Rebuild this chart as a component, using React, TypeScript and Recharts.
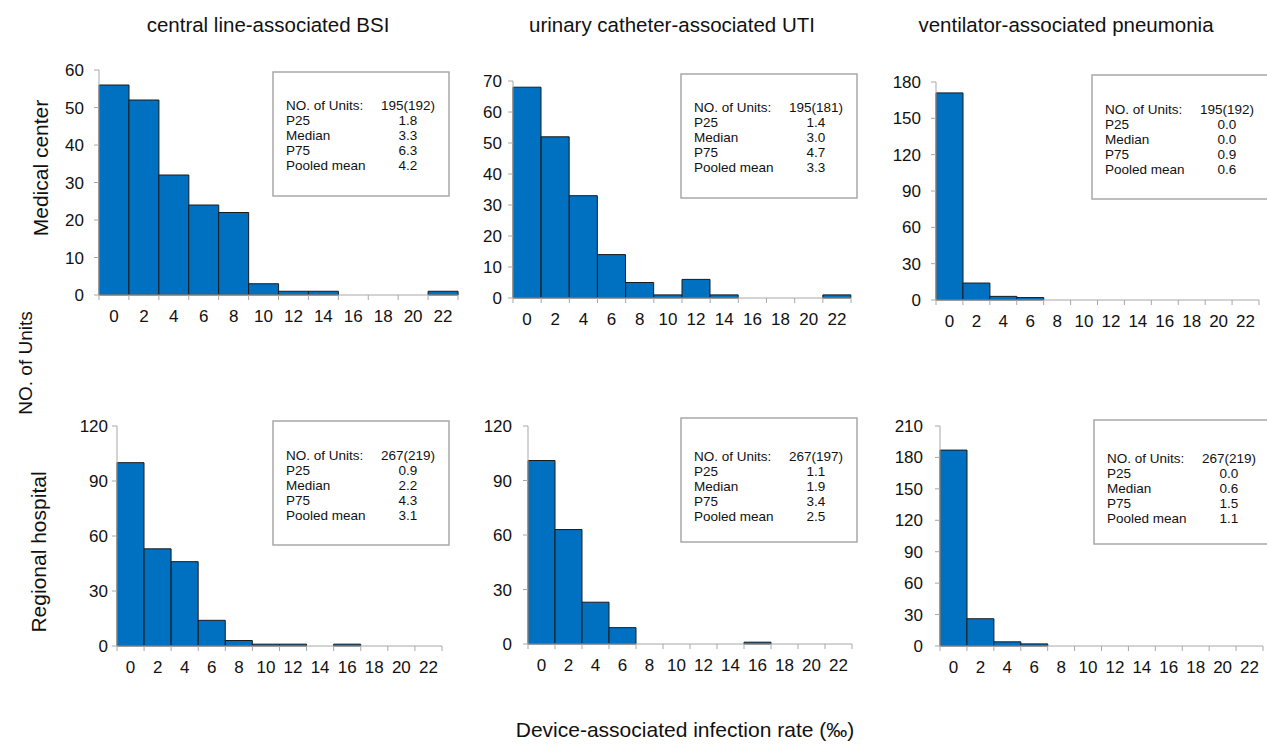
import React from "react";
import { BarChart, Bar, XAxis, YAxis } from "recharts";

// Histogramas de taxa de infeccao por dispositivo: centros medicos (linha de cima)
// e hospitais regionais (linha de baixo). Bins de 2 em 2 (‰).
const BINS = ["0", "2", "4", "6", "8", "10", "12", "14", "16", "18", "20", "22"];

const CLABSI_MC = [56, 52, 32, 24, 22, 3, 1, 1, 0, 0, 0, 1];
const CAUTI_MC = [68, 52, 33, 14, 5, 1, 6, 1, 0, 0, 0, 1];
const VAP_MC = [171, 14, 3, 2, 0, 0, 0, 0, 0, 0, 0, 0];
const CLABSI_RH = [100, 53, 46, 14, 3, 1, 1, 0, 1, 0, 0, 0];
const CAUTI_RH = [101, 63, 23, 9, 0, 0, 0, 0, 1, 0, 0, 0];
const VAP_RH = [187, 26, 4, 2, 0, 0, 0, 0, 0, 0, 0, 0];

const TICKS_MC = [
  [0, 10, 20, 30, 40, 50, 60],
  [0, 10, 20, 30, 40, 50, 60, 70],
  [0, 30, 60, 90, 120, 150, 180],
];
const TICKS_RH = [
  [0, 30, 60, 90, 120],
  [0, 30, 60, 90, 120],
  [0, 30, 60, 90, 120, 150, 180, 210],
];

const TITULOS = [
  "central line-associated BSI",
  "urinary catheter-associated UTI",
  "ventilator-associated pneumonia",
];

const STAT_LABELS = ["NO. of Units:", "P25", "Median", "P75", "Pooled mean"];
const STATS_MC = [
  ["195(192)", "1.8", "3.3", "6.3", "4.2"],
  ["195(181)", "1.4", "3.0", "4.7", "3.3"],
  ["195(192)", "0.0", "0.0", "0.9", "0.6"],
];
const STATS_RH = [
  ["267(219)", "0.9", "2.2", "4.3", "3.1"],
  ["267(197)", "1.1", "1.9", "3.4", "2.5"],
  ["267(219)", "0.0", "0.6", "1.5", "1.1"],
];

// layout (px) medido na referencia
const PLOTS = [
  { l: 99, r: 458, t: 70, b: 295, gap: 10, box: [273, 72], off: 38 },
  { l: 513, r: 851, t: 81, b: 298, gap: 6, box: [681, 74], off: 38 },
  { l: 936, r: 1259, t: 82, b: 300, gap: 10, box: [1092, 75], off: 39 },
  { l: 117, r: 442, t: 426, b: 646, gap: 4, box: [273, 421], off: 39 },
  { l: 528, r: 852, t: 426, b: 644, gap: 11, box: [681, 418], off: 43 },
  { l: 940, r: 1263, t: 426, b: 646, gap: 12, box: [1094, 420], off: 43 },
];

const AZUL = "#0070C0";
const EIXO = "#a8a8a8";
const TEXTO = "#111";
const FONTE = "'Liberation Sans', Arial, sans-serif";

function XTick(props: any) {
  const { x, y, payload, index, bw } = props;
  const half = bw / 2;
  return (
    <g>
      <line x1={x - half} y1={y} x2={x - half} y2={y + 5} stroke={EIXO} />
      {index === BINS.length - 1 && (
        <line x1={x + half} y1={y} x2={x + half} y2={y + 5} stroke={EIXO} />
      )}
      <text x={x} y={y + 27} textAnchor="middle" fontSize={17} fill={TEXTO}>
        {payload.value}
      </text>
    </g>
  );
}

function Painel({ valores, ticks, p }: { valores: number[]; ticks: number[]; p: any }) {
  const dados = BINS.map((b, i) => ({ bin: b, n: valores[i] }));
  const w = p.r - p.l;
  const h = p.b - p.t;
  const bw = w / BINS.length;
  return (
    <div style={{ position: "absolute", left: p.l - 60, top: p.t - 10 }}>
      <BarChart
        width={60 + w + 8}
        height={10 + h + 30}
        data={dados}
        barCategoryGap={0}
        barGap={0}
        margin={{ top: 10, right: 8, left: 0, bottom: 0 }}
      >
        <XAxis
          dataKey="bin"
          height={30}
          interval={0}
          tickSize={0}
          tickMargin={0}
          tickLine={false}
          axisLine={{ stroke: EIXO }}
          tick={(tp: any) => <XTick {...tp} bw={bw} />}
        />
        <YAxis
          width={60}
          domain={[0, ticks[ticks.length - 1]]}
          ticks={ticks}
          interval={0}
          tickSize={5}
          tickMargin={p.gap}
          axisLine={{ stroke: EIXO }}
          tickLine={{ stroke: EIXO }}
          tick={{ fontSize: 17, fill: TEXTO }}
        />
        <Bar dataKey="n" fill={AZUL} stroke="#1a1a1a" strokeWidth={1} isAnimationActive={false} />
      </BarChart>
    </div>
  );
}

function Caixa({ x, y, off, valores }: { x: number; y: number; off: number; valores: string[] }) {
  return (
    <g>
      <rect x={x} y={y} width={176} height={124} fill="#fff" stroke={EIXO} strokeWidth={1.5} />
      {STAT_LABELS.map((lab, i) => (
        <g key={lab}>
          <text x={x + 13} y={y + off + i * 15} fontSize={13.5} fill={TEXTO}>
            {lab}
          </text>
          <text x={x + 135} y={y + off + i * 15} fontSize={13.5} fill={TEXTO} textAnchor="middle">
            {valores[i]}
          </text>
        </g>
      ))}
    </g>
  );
}

export default function App() {
  const series = [CLABSI_MC, CAUTI_MC, VAP_MC, CLABSI_RH, CAUTI_RH, VAP_RH];
  const ticks = [...TICKS_MC, ...TICKS_RH];
  const stats = [...STATS_MC, ...STATS_RH];
  return (
    <div
      style={{
        position: "absolute",
        left: 0,
        top: 0,
        width: 1267,
        height: 744,
        background: "#fff",
        fontFamily: FONTE,
        overflow: "hidden",
      }}
    >
      {PLOTS.map((p, i) => (
        <Painel key={i} valores={series[i]} ticks={ticks[i]} p={p} />
      ))}
      <svg
        width={1267}
        height={744}
        style={{ position: "absolute", left: 0, top: 0, pointerEvents: "none" }}
        fontFamily={FONTE}
      >
        {PLOTS.map((p, i) => (
          <Caixa key={i} x={p.box[0]} y={p.box[1]} off={p.off} valores={stats[i]} />
        ))}
        {TITULOS.map((t, i) => (
          <text key={t} x={[268, 672, 1066][i]} y={32} fontSize={20.5} fill={TEXTO} textAnchor="middle">
            {t}
          </text>
        ))}
        <text transform="translate(48,168) rotate(-90)" fontSize={21} fill={TEXTO} textAnchor="middle">
          Medical center
        </text>
        <text transform="translate(46,552) rotate(-90)" fontSize={21} fill={TEXTO} textAnchor="middle">
          Regional hospital
        </text>
        <text transform="translate(32,363) rotate(-90)" fontSize={19} fill={TEXTO} textAnchor="middle">
          NO. of Units
        </text>
        <text x={685} y={737} fontSize={21} fill={TEXTO} textAnchor="middle">
          Device-associated infection rate (‰)
        </text>
      </svg>
    </div>
  );
}
